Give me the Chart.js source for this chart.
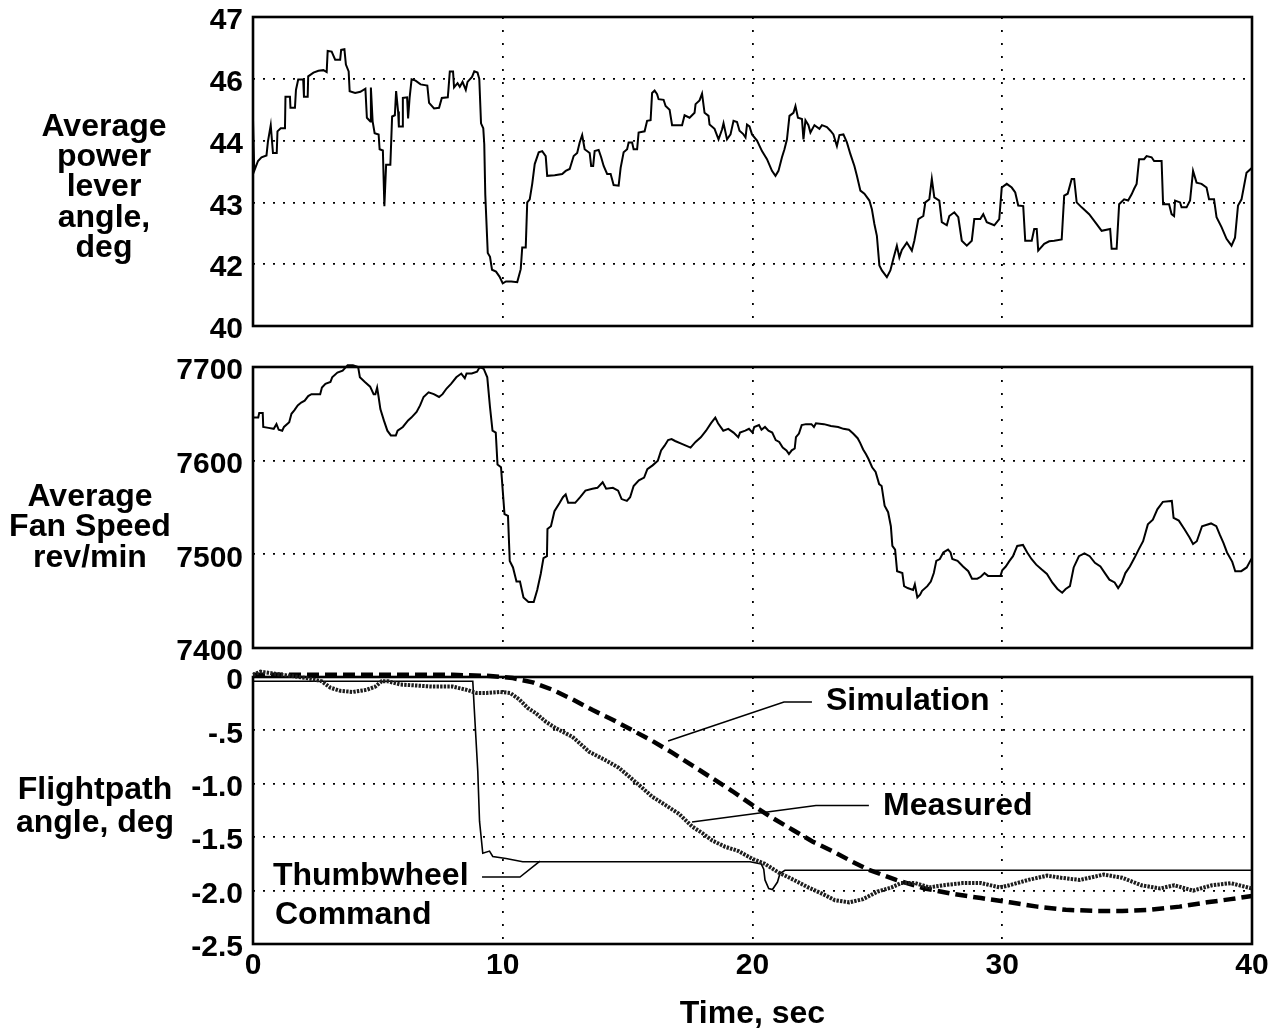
<!DOCTYPE html>
<html>
<head>
<meta charset="utf-8">
<title>Thumbwheel flightpath command response</title>
<script src="https://cdn.jsdelivr.net/npm/chart.js@4.4.1/dist/chart.umd.min.js"></script>
<style>
  html, body { margin: 0; padding: 0; background: #fff; }
  #wrap { position: relative; width: 1284px; height: 1030px; }
  canvas { position: absolute; left: 0; }
</style>
</head>
<body>
<div id="wrap">
  <canvas id="leverChart" width="1284" height="345" style="top:0px"></canvas>
  <canvas id="fanChart" width="1284" height="315" style="top:345px"></canvas>
  <canvas id="pathChart" width="1284" height="370" style="top:660px"></canvas>
</div>
<script>
// shared time axis, sec
const timeTicks = [0, 10, 20, 30, 40];

// average power lever angle, deg (printed scale is not evenly stepped)
const leverTicks = [40, 42, 43, 44, 46, 47];
const leverTime = [
  0, 0.05, 0.2, 0.34, 0.54, 0.6, 0.71, 0.8, 0.95, 0.98, 1.11, 1.28, 1.3, 1.48, 1.5, 1.68, 1.72, 1.81, 2.01, 2.04,
  2.19, 2.21, 2.42, 2.62, 2.82, 2.95, 2.99, 3.15, 3.29, 3.49, 3.53, 3.66, 3.72, 3.83, 3.87, 4.09, 4.3, 4.5, 4.56, 4.7,
  4.72, 4.79, 4.87, 5.03, 5.07, 5.2, 5.26, 5.33, 5.5, 5.57, 5.68, 5.73, 5.81, 5.84, 5.97, 6.0, 6.17, 6.21, 6.27, 6.35,
  6.51, 6.71, 6.98, 7.05, 7.25, 7.45, 7.56, 7.8, 7.83, 7.88, 8.01, 8.05, 8.19, 8.28, 8.39, 8.52, 8.59, 8.77, 8.86, 8.99,
  9.06, 9.13, 9.22, 9.26, 9.3, 9.4, 9.49, 9.57, 9.73, 9.87, 10.0, 10.13, 10.34, 10.58, 10.72, 10.78, 10.92, 10.98, 11.08, 11.18,
  11.28, 11.44, 11.58, 11.72, 11.78, 12.08, 12.38, 12.52, 12.68, 12.84, 12.98, 13.08, 13.18, 13.28, 13.48, 13.54, 13.62, 13.68, 13.84, 13.94,
  14.04, 14.18, 14.32, 14.44, 14.64, 14.72, 14.84, 14.98, 15.04, 15.18, 15.24, 15.38, 15.44, 15.68, 15.78, 15.92, 15.98, 16.08, 16.18, 16.24,
  16.44, 16.52, 16.68, 16.78, 17.18, 17.28, 17.48, 17.68, 17.72, 17.88, 17.98, 18.08, 18.24, 18.28, 18.48, 18.64, 18.78, 18.84, 18.98, 19.12,
  19.24, 19.38, 19.48, 19.62, 19.72, 19.78, 19.88, 19.98, 20.18, 20.38, 20.58, 20.78, 20.92, 21.04, 21.18, 21.28, 21.38, 21.48, 21.64, 21.72,
  21.82, 21.98, 22.04, 22.12, 22.24, 22.32, 22.48, 22.68, 22.78, 22.98, 23.12, 23.24, 23.38, 23.48, 23.64, 23.78, 23.92, 24.08, 24.18, 24.32,
  24.48, 24.68, 24.78, 24.88, 24.98, 25.08, 25.18, 25.38, 25.52, 25.64, 25.78, 25.88, 25.98, 26.18, 26.38, 26.48, 26.64, 26.84, 26.92, 27.08,
  27.18, 27.28, 27.48, 27.58, 27.78, 27.88, 28.08, 28.24, 28.38, 28.58, 28.78, 28.88, 29.12, 29.24, 29.38, 29.68, 29.88, 29.98, 30.18, 30.38,
  30.52, 30.64, 30.84, 30.92, 31.18, 31.28, 31.38, 31.44, 31.68, 31.88, 32.08, 32.38, 32.48, 32.62, 32.78, 32.88, 32.98, 33.18, 33.48, 33.78,
  33.98, 34.32, 34.38, 34.58, 34.68, 34.88, 35.04, 35.18, 35.28, 35.38, 35.48, 35.68, 35.78, 35.98, 36.08, 36.38, 36.44, 36.68, 36.78, 36.88,
  36.92, 37.12, 37.18, 37.38, 37.52, 37.64, 37.78, 37.98, 38.18, 38.28, 38.48, 38.58, 38.78, 38.98, 39.18, 39.32, 39.44, 39.58, 39.78, 40.0
];
const leverAngle = [
  44.68, 43.51, 43.67, 43.73, 43.76, 43.99, 44.5, 43.8, 43.8, 44.3, 44.4, 44.4, 45.42, 45.42, 45.06, 45.06, 45.64, 45.98, 45.98, 45.42,
  45.42, 46.04, 46.1, 46.13, 46.14, 46.11, 46.45, 46.44, 46.31, 46.31, 46.47, 46.48, 46.23, 46.12, 45.6, 45.54, 45.58, 45.68, 44.74, 44.62,
  45.72, 44.62, 44.24, 44.2, 43.86, 43.84, 42.94, 43.61, 43.61, 44.78, 44.82, 45.6, 44.94, 44.46, 44.46, 45.38, 45.4, 44.72, 45.38, 45.98,
  45.94, 45.82, 45.78, 45.22, 45.04, 45.06, 45.38, 45.4, 45.7, 46.12, 46.12, 45.72, 45.86, 45.74, 45.9, 45.64, 45.9, 46.03, 46.12, 46.1,
  46.0, 44.56, 44.4, 43.94, 43.13, 42.18, 42.12, 41.82, 41.76, 41.6, 41.38, 41.44, 41.44, 41.42, 41.84, 42.27, 42.27, 43.0, 43.05, 43.3,
  43.62, 43.81, 43.83, 43.75, 43.43, 43.44, 43.46, 43.51, 43.54, 43.75, 43.8, 43.97, 44.18, 43.86, 43.8, 43.59, 43.59, 43.83, 43.85, 43.73,
  43.59, 43.46, 43.46, 43.28, 43.27, 43.56, 43.81, 43.86, 43.97, 43.97, 43.86, 43.86, 44.26, 44.3, 44.64, 44.66, 45.54, 45.62, 45.5, 45.34,
  45.32, 45.12, 45.0, 44.5, 44.5, 44.82, 44.74, 44.9, 45.18, 45.3, 45.52, 44.9, 44.8, 44.52, 44.38, 44.04, 44.36, 44.56, 44.04, 44.2,
  44.64, 44.6, 44.32, 44.22, 44.1, 44.52, 44.46, 44.2, 44.0, 43.83, 43.7, 43.51, 43.43, 43.51, 43.73, 43.86, 44.04, 44.8, 44.9, 45.12,
  44.74, 44.7, 44.04, 44.66, 44.5, 44.26, 44.5, 44.38, 44.5, 44.44, 44.32, 44.2, 43.91, 44.18, 44.2, 43.97, 43.78, 43.59, 43.43, 43.19,
  43.14, 43.03, 42.89, 42.65, 42.46, 41.96, 41.8, 41.58, 41.8, 42.09, 42.3, 42.11, 42.23, 42.35, 42.22, 42.38, 42.73, 42.78, 43.0, 43.05,
  43.38, 43.08, 43.03, 42.68, 42.63, 42.78, 42.84, 42.76, 42.38, 42.3, 42.38, 42.73, 42.73, 42.81, 42.68, 42.63, 42.73, 43.24, 43.3, 43.24,
  43.16, 42.95, 42.94, 42.38, 42.38, 42.57, 42.57, 42.22, 42.33, 42.37, 42.38, 42.4, 43.11, 43.14, 43.38, 43.38, 43.0, 42.92, 42.81, 42.65,
  42.54, 42.57, 42.25, 42.25, 42.97, 43.05, 43.03, 43.13, 43.22, 43.3, 43.7, 43.7, 43.75, 43.73, 43.67, 43.67, 42.97, 42.97, 42.81, 42.78,
  43.03, 43.0, 42.92, 42.92, 43.03, 43.51, 43.32, 43.3, 43.24, 43.05, 43.05, 42.76, 42.6, 42.41, 42.3, 42.43, 42.95, 43.05, 43.48, 43.56
];

// average fan speed, rev/min
const fanTicks = [7400, 7500, 7600, 7700];
const fanTime = [
  0, 0.21, 0.25, 0.39, 0.41, 0.62, 0.83, 0.94, 1.03, 1.17, 1.24, 1.45, 1.54, 1.66, 1.79, 1.93, 2.07, 2.21, 2.34, 2.69,
  2.76, 2.9, 3.1, 3.17, 3.38, 3.59, 3.79, 4.0, 4.21, 4.28, 4.48, 4.69, 4.83, 4.9, 4.97, 5.03, 5.1, 5.24, 5.38, 5.52,
  5.72, 5.79, 6.0, 6.21, 6.34, 6.55, 6.69, 6.83, 7.03, 7.24, 7.45, 7.59, 7.75, 7.93, 8.14, 8.34, 8.48, 8.55, 8.76, 8.97,
  9.08, 9.24, 9.38, 9.49, 9.59, 9.72, 9.79, 9.93, 10.0, 10.07, 10.21, 10.28, 10.41, 10.55, 10.69, 10.83, 11.03, 11.24, 11.38, 11.52,
  11.63, 11.77, 11.79, 11.93, 12.07, 12.28, 12.41, 12.52, 12.62, 12.9, 13.1, 13.31, 13.59, 13.79, 14.0, 14.14, 14.41, 14.62, 14.76, 14.97,
  15.1, 15.24, 15.45, 15.66, 15.79, 16.0, 16.21, 16.34, 16.48, 16.62, 16.76, 16.9, 17.17, 17.52, 17.72, 17.93, 18.14, 18.34, 18.51, 18.62,
  18.83, 19.03, 19.24, 19.43, 19.5, 19.71, 19.86, 20.0, 20.07, 20.26, 20.36, 20.5, 20.64, 20.79, 20.93, 21.07, 21.21, 21.36, 21.46, 21.57,
  21.69, 21.74, 21.86, 21.97, 22.14, 22.36, 22.46, 22.54, 22.86, 23.14, 23.43, 23.64, 23.86, 24.03, 24.21, 24.31, 24.43, 24.54, 24.64, 24.79,
  24.93, 25.07, 25.17, 25.29, 25.43, 25.54, 25.6, 25.71, 25.79, 26.0, 26.07, 26.21, 26.43, 26.5, 26.6, 26.71, 26.79, 27.0, 27.14, 27.26,
  27.36, 27.5, 27.64, 27.83, 27.93, 28.0, 28.21, 28.43, 28.64, 28.79, 29.0, 29.14, 29.29, 29.43, 29.93, 30.0, 30.14, 30.29, 30.43, 30.6,
  30.83, 31.0, 31.17, 31.36, 31.57, 31.79, 32.0, 32.21, 32.4, 32.54, 32.71, 32.86, 33.07, 33.29, 33.5, 33.71, 33.93, 34.11, 34.29, 34.5,
  34.64, 34.79, 34.93, 35.11, 35.29, 35.46, 35.64, 35.83, 36.03, 36.21, 36.43, 36.79, 36.86, 37.07, 37.29, 37.5, 37.64, 37.79, 38.0, 38.36,
  38.57, 38.71, 38.86, 39.0, 39.21, 39.33, 39.57, 39.79, 39.93, 40.0
];
const fanSpeed = [
  7646, 7646, 7651, 7651, 7636, 7635, 7634, 7639, 7633, 7632, 7636, 7641, 7650, 7654, 7659, 7662, 7664, 7669, 7671, 7671,
  7678, 7682, 7684, 7689, 7694, 7696, 7702, 7702, 7700, 7689, 7684, 7679, 7671, 7671, 7678, 7668, 7655, 7643, 7632, 7627,
  7627, 7632, 7636, 7643, 7646, 7652, 7659, 7668, 7673, 7671, 7668, 7671, 7677, 7682, 7689, 7693, 7688, 7693, 7693, 7695,
  7700, 7698, 7689, 7657, 7632, 7630, 7596, 7593, 7568, 7543, 7541, 7493, 7486, 7471, 7471, 7454, 7449, 7449, 7462, 7479,
  7496, 7498, 7527, 7530, 7546, 7555, 7561, 7564, 7555, 7555, 7561, 7568, 7570, 7571, 7577, 7570, 7571, 7568, 7559, 7557,
  7561, 7573, 7579, 7582, 7591, 7595, 7600, 7611, 7616, 7622, 7623, 7621, 7618, 7614, 7620, 7625, 7632, 7640, 7646, 7640,
  7632, 7634, 7630, 7625, 7630, 7632, 7634, 7630, 7636, 7638, 7633, 7636, 7632, 7630, 7622, 7620, 7614, 7611, 7607, 7611,
  7613, 7625, 7629, 7638, 7639, 7639, 7636, 7640, 7639, 7637, 7636, 7634, 7633, 7629, 7624, 7619, 7612, 7607, 7602, 7593,
  7588, 7575, 7573, 7552, 7545, 7530, 7509, 7505, 7482, 7480, 7466, 7464, 7462, 7468, 7454, 7457, 7461, 7466, 7471, 7480,
  7493, 7495, 7502, 7505, 7502, 7495, 7493, 7487, 7482, 7474, 7474, 7476, 7480, 7477, 7477, 7483, 7487, 7493, 7498, 7509,
  7510, 7502, 7495, 7489, 7484, 7479, 7470, 7463, 7459, 7463, 7466, 7486, 7498, 7501, 7498, 7491, 7487, 7480, 7473, 7470,
  7464, 7470, 7480, 7487, 7496, 7505, 7514, 7532, 7537, 7548, 7556, 7557, 7539, 7536, 7527, 7518, 7511, 7514, 7530, 7533,
  7530, 7521, 7512, 7502, 7492, 7482, 7482, 7486, 7493, 7496
];

// flightpath angle, deg
const pathTicks = [0, -0.5, -1.0, -1.5, -2.0, -2.5];
const pathTickLabels = ['0', '-.5', '-1.0', '-1.5', '-2.0', '-2.5'];

const measTime = [
  0, 0.3, 0.6, 1.2, 2.15, 2.75, 3.1, 3.5, 4.0, 4.55, 4.9, 5.15, 5.4, 5.9, 6.55, 7.2, 8.0, 8.55, 8.95, 9.35,
  9.9, 10.3, 10.66, 11.0, 11.33, 11.73, 12.13, 12.79, 13.46, 14.12, 14.65, 15.05, 15.45, 15.98, 16.52, 17.05, 17.58, 17.98, 18.38, 18.91,
  19.44, 19.97, 20.5, 21.04, 21.57, 22.23, 22.8, 23.3, 23.87, 24.43, 25.0, 25.57, 25.94, 26.51, 27.08, 27.64, 28.4, 29.15, 29.91, 30.28,
  31.04, 31.79, 32.36, 33.11, 34.06, 34.81, 35.57, 36.32, 36.89, 37.64, 38.4, 39.15, 40.0
];
const measAngle = [
  0.02, 0.05, 0.04, 0.02, -0.01, -0.04, -0.1, -0.13, -0.14, -0.12, -0.09, -0.04, -0.04, -0.07, -0.08, -0.09, -0.09, -0.12, -0.15, -0.15,
  -0.14, -0.15, -0.21, -0.29, -0.34, -0.42, -0.48, -0.56, -0.7, -0.78, -0.85, -0.93, -1.01, -1.12, -1.2, -1.28, -1.4, -1.46, -1.53, -1.59,
  -1.63, -1.7, -1.75, -1.83, -1.89, -1.97, -2.03, -2.09, -2.11, -2.08, -2.01, -1.97, -1.93, -1.93, -1.97, -1.95, -1.93, -1.93, -1.97, -1.95,
  -1.9, -1.86, -1.88, -1.9, -1.85, -1.88, -1.95, -1.98, -1.95, -2.0, -1.95, -1.93, -1.98
];

const simTime = [
  0, 4, 8, 9.5, 10.4, 11.2, 12.0, 12.8, 13.6, 14.4, 15.2, 16.0, 16.8, 17.6, 18.4, 19.2, 20.0, 20.8, 21.6, 22.4,
  23.2, 24.0, 24.6, 25.75, 26.9, 28.0, 29.15, 30.3, 31.4, 32.55, 33.7, 34.8, 35.9, 37.1, 38.2, 39.15, 40.0
];
const simAngle = [
  0.02, 0.02, 0.02, 0.01, -0.01, -0.05, -0.12, -0.21, -0.31, -0.4, -0.5, -0.6, -0.71, -0.83, -0.95, -1.07, -1.2, -1.32, -1.43, -1.54,
  -1.63, -1.73, -1.8, -1.9, -1.98, -2.03, -2.07, -2.11, -2.15, -2.18, -2.19, -2.19, -2.18, -2.15, -2.11, -2.08, -2.05
];

const thumbTime = [0, 8.8, 8.86, 9.0, 9.07, 9.2, 9.47, 9.6, 10.13, 10.8, 19.9, 20.35, 20.45, 20.5, 20.65, 20.8, 21.0, 21.1, 21.3, 40.0];
const thumbAngle = [-0.04, -0.04, -0.3, -0.88, -1.35, -1.65, -1.63, -1.68, -1.7, -1.73, -1.73, -1.75, -1.8, -1.9, -1.98, -1.99, -1.92, -1.84, -1.81, -1.81];

const FONT = "'Liberation Sans', Arial, Helvetica, sans-serif";
Chart.defaults.font.family = FONT;
Chart.defaults.font.weight = 'bold';
Chart.defaults.font.size = 30;
Chart.defaults.color = '#000';

// evenly spaced lever ticks; values in between are placed linearly within their step
function leverPos(deg) {
  for (let i = 1; i < leverTicks.length; i++) {
    if (deg <= leverTicks[i] || i === leverTicks.length - 1) {
      const a = leverTicks[i - 1], b = leverTicks[i];
      return i - 1 + (deg - a) / (b - a);
    }
  }
}

function points(xs, ys, fy) {
  return xs.map((t, i) => ({ x: t, y: fy ? fy(ys[i]) : ys[i] }));
}

// heavy box round each plot area
const framePlugin = {
  id: 'frame',
  beforeDatasetsDraw(chart) {
    const { ctx, chartArea: a } = chart;
    ctx.save();
    ctx.strokeStyle = '#000';
    ctx.lineWidth = 2.6;
    ctx.strokeRect(a.left, a.top, a.right - a.left, a.bottom - a.top);
    ctx.restore();
  }
};

// horizontal, centred axis caption left of the tick labels
const sideTitle = {
  id: 'sideTitle',
  afterDraw(chart, args, opts) {
    if (!opts.lines) return;
    const ctx = chart.ctx;
    ctx.save();
    ctx.font = 'bold 32px ' + FONT;
    ctx.fillStyle = '#000';
    ctx.textAlign = 'center';
    ctx.textBaseline = 'middle';
    opts.lines.forEach((s, i) => ctx.fillText(s, opts.x, opts.y + i * opts.lineHeight));
    ctx.restore();
  }
};

// curve names with leader lines, placed in data units
const callouts = {
  id: 'callouts',
  afterDatasetsDraw(chart, args, opts) {
    if (!opts.items) return;
    const { ctx, scales: { x, y } } = chart;
    ctx.save();
    ctx.strokeStyle = '#000';
    ctx.fillStyle = '#000';
    ctx.lineWidth = 1.6;
    ctx.font = 'bold 32px ' + FONT;
    ctx.textAlign = 'left';
    ctx.textBaseline = 'middle';
    opts.items.forEach(it => {
      if (it.leader) {
        ctx.beginPath();
        it.leader.forEach(([t, v], i) => {
          const px = x.getPixelForValue(t), py = y.getPixelForValue(v);
          if (i) ctx.lineTo(px, py); else ctx.moveTo(px, py);
        });
        ctx.stroke();
      }
      ctx.fillText(it.text, x.getPixelForValue(it.at[0]), y.getPixelForValue(it.at[1]));
    });
    ctx.restore();
  }
};

function timeAxis(labels) {
  return {
    type: 'linear',
    min: 0,
    max: 40,
    afterBuildTicks: s => { s.ticks = timeTicks.map(v => ({ value: v })); },
    afterFit: s => { s.height = labels ? 86 : 0; s.paddingLeft = 0; s.paddingRight = 0; },
    grid: { color: '#000', lineWidth: 1.8, drawTicks: false },
    border: { display: false, dash: [2, 11] },
    ticks: { display: labels, padding: 4, maxRotation: 0, autoSkip: false },
    title: { display: labels, text: 'Time, sec', font: { size: 32 }, padding: { top: 0, bottom: -3 } }
  };
}

function valueAxis(min, max, values, label) {
  return {
    type: 'linear',
    min: min,
    max: max,
    afterBuildTicks: s => { s.ticks = values.map(v => ({ value: v })); },
    afterFit: s => { s.width = 253; s.paddingTop = 0; s.paddingBottom = 0; },
    grid: { color: '#000', lineWidth: 1.8, drawTicks: false },
    border: { display: false, dash: [2, 8] },
    ticks: { padding: 10, labelOffset: 4, autoSkip: false, callback: v => label(v) }
  };
}

function baseOptions(padding, xAxis, yAxis, plugins) {
  return {
    responsive: false,
    animation: false,
    devicePixelRatio: 1,
    layout: { padding: padding },
    elements: { point: { radius: 0 }, line: { tension: 0 } },
    scales: { x: xAxis, y: yAxis },
    plugins: Object.assign({ legend: { display: false }, tooltip: { enabled: false } }, plugins)
  };
}

new Chart(document.getElementById('leverChart'), {
  type: 'line',
  data: {
    datasets: [{
      data: points(leverTime, leverAngle, leverPos),
      borderColor: '#000',
      borderWidth: 2
    }]
  },
  options: baseOptions(
    { top: 17, bottom: 19, left: 0, right: 32 },
    timeAxis(false),
    valueAxis(0, leverTicks.length - 1, leverTicks.map((_, i) => i), v => String(leverTicks[Math.round(v)])),
    { sideTitle: { lines: ['Average', 'power', 'lever', 'angle,', 'deg'], x: 104, y: 127, lineHeight: 30.3 } }
  ),
  plugins: [framePlugin, sideTitle]
});

new Chart(document.getElementById('fanChart'), {
  type: 'line',
  data: {
    datasets: [{
      data: points(fanTime, fanSpeed),
      borderColor: '#000',
      borderWidth: 2,
      clip: 5
    }]
  },
  options: baseOptions(
    { top: 22, bottom: 12, left: 0, right: 32 },
    timeAxis(false),
    valueAxis(7400, 7700, fanTicks, v => String(v)),
    { sideTitle: { lines: ['Average', 'Fan Speed', 'rev/min'], x: 90, y: 152, lineHeight: 30.5 } }
  ),
  plugins: [framePlugin, sideTitle]
});

new Chart(document.getElementById('pathChart'), {
  type: 'line',
  data: {
    datasets: [
      {
        label: 'Measured',
        data: points(measTime, measAngle),
        borderColor: '#1e1e1e',
        borderWidth: 4,
        borderDash: [2.4, 1.2],
        clip: 10,
        order: 1
      },
      {
        label: 'Simulation',
        data: points(simTime, simAngle),
        borderColor: '#000',
        borderWidth: 4.5,
        borderDash: [12, 6],
        clip: 10,
        order: 2
      },
      {
        label: 'Thumbwheel Command',
        data: points(thumbTime, thumbAngle),
        borderColor: '#000',
        borderWidth: 1.6,
        clip: 10,
        order: 3
      }
    ]
  },
  options: baseOptions(
    { top: 17, bottom: 0, left: 0, right: 32 },
    timeAxis(true),
    valueAxis(-2.5, 0, pathTicks, v => pathTickLabels[pathTicks.indexOf(v)]),
    {
      sideTitle: { lines: ['Flightpath', 'angle, deg'], x: 95, y: 130, lineHeight: 33 },
      callouts: {
        items: [
          { text: 'Simulation', at: [22.94, -0.225], leader: [[22.38, -0.234], [21.26, -0.234], [16.62, -0.599]] },
          { text: 'Measured', at: [25.23, -1.208], leader: [[24.66, -1.203], [22.54, -1.203], [17.58, -1.358]] },
          { text: 'Thumbwheel', at: [0.8, -1.863], leader: [[9.17, -1.873], [10.69, -1.873], [11.49, -1.723]] },
          { text: 'Command', at: [0.88, -2.228] }
        ]
      }
    }
  ),
  plugins: [framePlugin, sideTitle, callouts]
});
</script>
</body>
</html>
